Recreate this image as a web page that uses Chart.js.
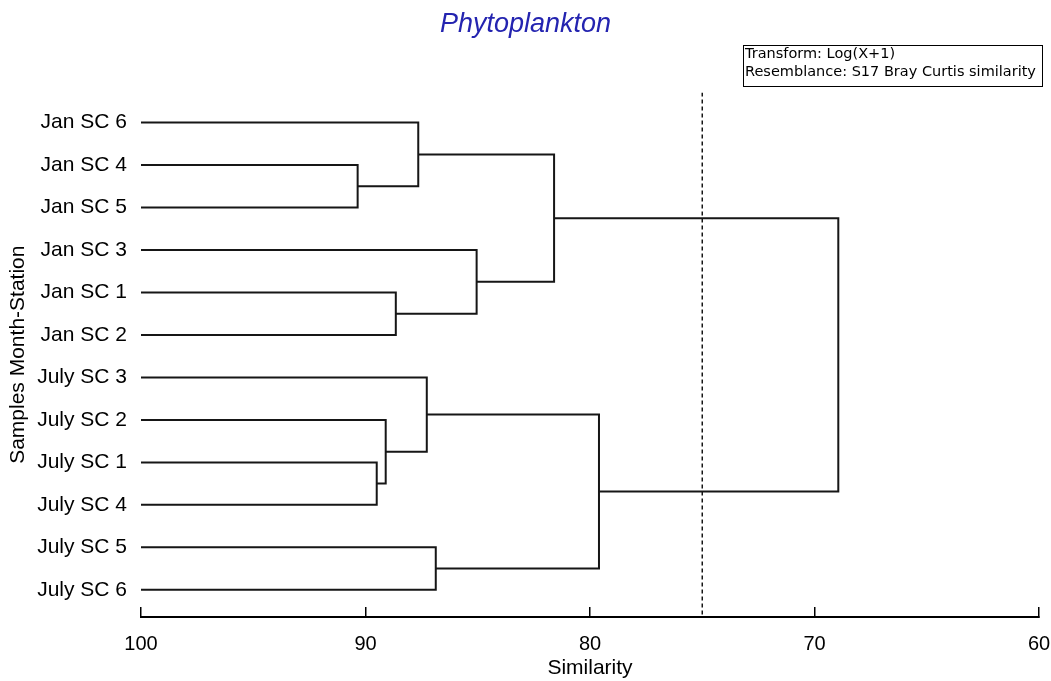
<!DOCTYPE html>
<html>
<head>
<meta charset="utf-8">
<title>Phytoplankton</title>
<script src="https://cdn.jsdelivr.net/npm/chart.js@4.4.1/dist/chart.umd.min.js"></script>
<style>
  html, body { margin: 0; padding: 0; background: #fff; }
  #wrap { width: 1051px; height: 681px; position: relative; }
</style>
</head>
<body>
<div id="wrap"><canvas id="dendro"></canvas></div>
<script>
/* Dendrogram of phytoplankton samples (group average, Bray Curtis similarity).
   Leaves top to bottom; merges refer to leaf index (0..11) or merge index + LEAVES.length. */
var LEAVES = ['Jan SC 6', 'Jan SC 4', 'Jan SC 5', 'Jan SC 3', 'Jan SC 1', 'Jan SC 2',
              'July SC 3', 'July SC 2', 'July SC 1', 'July SC 4', 'July SC 5', 'July SC 6'];
var MERGE_A     = [1,     0,     4,     3,     13,   8,    7,    6,     10,    19,   16];
var MERGE_B     = [2,     12,    5,     14,    15,   9,    17,   18,    11,    20,   21];
var MERGE_LEVEL = [90.35, 87.65, 88.65, 85.05, 81.6, 89.5, 89.1, 87.27, 86.87, 79.6, 68.94];
var X_TICKS = [100, 90, 80, 70, 60];
var CUT_LEVEL = 75;
var NOTE_LINES = ['Transform: Log(X+1)', 'Resemblance: S17 Bray Curtis similarity'];

var Y_MIN = -0.71, Y_MAX = 11.64;
var LINE = '#161616';
var FONT = '"Liberation Sans", Arial, sans-serif';

(function () {
  // node positions: leaves sit at similarity 100, merges at their level, y = mid of children
  var nodes = LEAVES.map(function (_, i) { return { x: 100, y: i }; });
  var datasets = [];
  for (var k = 0; k < MERGE_LEVEL.length; k++) {
    var a = nodes[MERGE_A[k]], b = nodes[MERGE_B[k]], lv = MERGE_LEVEL[k];
    nodes.push({ x: lv, y: (a.y + b.y) / 2 });
    datasets.push({
      data: [{ x: a.x, y: a.y }, { x: lv, y: a.y }, { x: lv, y: b.y }, { x: b.x, y: b.y }],
      borderColor: LINE, borderWidth: 2, pointRadius: 0, tension: 0, fill: false, clip: false
    });
  }
  datasets.push({
    data: [{ x: CUT_LEVEL, y: Y_MIN }, { x: CUT_LEVEL, y: Y_MAX }],
    borderColor: LINE, borderWidth: 1.5, borderDash: [4, 3], pointRadius: 0, fill: false
  });

  var notePlugin = {
    id: 'note',
    afterDraw: function (chart) {
      var ctx = chart.ctx, r = chart.chartArea.right + 3, w = 299, t = 45, h = 41;
      ctx.save();
      ctx.strokeStyle = '#000'; ctx.lineWidth = 1;
      ctx.strokeRect(r - w + 0.5, t + 0.5, w, h);
      ctx.fillStyle = '#000';
      ctx.font = '14.5px "DejaVu Sans", sans-serif';
      ctx.textBaseline = 'alphabetic';
      NOTE_LINES.forEach(function (s, i) { ctx.fillText(s, r - w + 2, t + 13 + i * 18); });
      ctx.restore();
    }
  };

  new Chart(document.getElementById('dendro'), {
    type: 'line',
    data: { datasets: datasets },
    plugins: [notePlugin],
    options: {
      responsive: true, maintainAspectRatio: false, animation: false,
      layout: { padding: { left: 0, right: 0, top: 0, bottom: 0 } },
      plugins: {
        legend: { display: false },
        tooltip: { enabled: false },
        title: {
          display: true, text: 'Phytoplankton', color: '#2424b0',
          font: { family: FONT, size: 27, style: 'italic', weight: 'normal' },
          padding: { top: 8, bottom: 52 }
        }
      },
      scales: {
        x: {
          type: 'linear', reverse: true, min: 60, max: 100,
          afterBuildTicks: function (s) { s.ticks = X_TICKS.map(function (v) { return { value: v }; }); },
          afterFit: function (s) { s.height = 64; s.paddingLeft = 0; s.paddingRight = 12; },
          ticks: { color: '#000', padding: 25, maxRotation: 0, font: { family: FONT, size: 20 } },
          grid: { drawOnChartArea: false, drawTicks: true, tickLength: -10, color: '#000', lineWidth: 1.5 },
          border: { display: true, color: '#000', width: 2 },
          title: { display: true, text: 'Similarity', color: '#000', padding: { top: 0, bottom: 0 },
                   font: { family: FONT, size: 21 } }
        },
        y: {
          type: 'linear', reverse: true, min: Y_MIN, max: Y_MAX,
          afterBuildTicks: function (s) { s.ticks = LEAVES.map(function (_, i) { return { value: i }; }); },
          afterFit: function (s) { s.width = 141; },
          ticks: { color: '#000', padding: 14, autoSkip: false,
                   callback: function (v) { return LEAVES[v]; },
                   font: { family: FONT, size: 21 } },
          grid: { display: false, drawTicks: false },
          border: { display: false },
          title: { display: true, text: 'Samples Month-Station', color: '#000', padding: { top: 6, bottom: 0 },
                   font: { family: FONT, size: 21 } }
        }
      }
    }
  });
})();
</script>
</body>
</html>
